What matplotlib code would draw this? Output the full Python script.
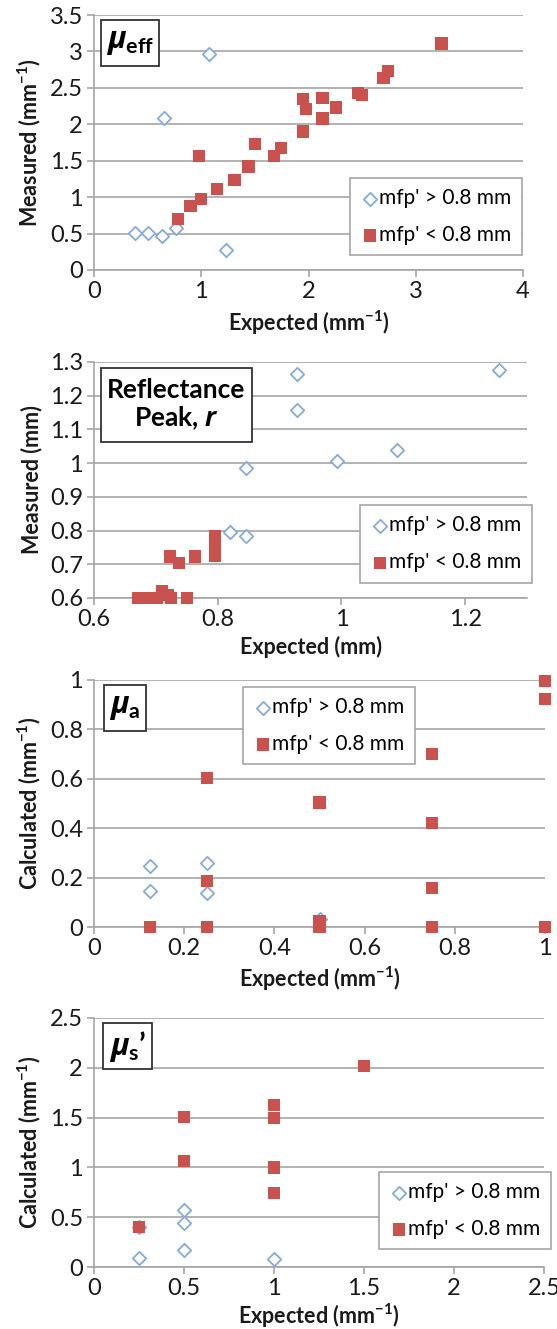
import matplotlib
matplotlib.use("Agg")
import matplotlib.pyplot as plt
from matplotlib.patches import Rectangle
from matplotlib.ticker import FuncFormatter

plt.rcParams['font.family'] = ['Lato', 'DejaVu Sans']
plt.rcParams['mathtext.fontset'] = 'custom'
plt.rcParams['mathtext.it'] = 'Open Sans:italic:bold'
plt.rcParams['mathtext.bf'] = 'Lato:bold'
plt.rcParams['mathtext.rm'] = 'Lato:bold'

# --- data ---
# panel 1: mu_eff
eff_hi_x = [0.38, 0.50, 0.63, 0.76, 0.65, 1.07, 1.23]
eff_hi_y = [0.51, 0.51, 0.47, 0.58, 2.09, 2.97, 0.27]
eff_lo_x = [3.24, 2.74, 2.70, 2.46, 2.50, 2.13, 1.95, 1.98, 2.26, 2.13, 1.95,
            1.50, 1.74, 1.68, 0.98, 1.44, 1.31, 1.15, 1.00, 0.90, 0.78]
eff_lo_y = [3.11, 2.73, 2.63, 2.43, 2.40, 2.36, 2.35, 2.21, 2.23, 2.08, 1.90,
            1.73, 1.67, 1.57, 1.57, 1.42, 1.24, 1.11, 0.97, 0.88, 0.70]

# panel 2: reflectance peak
pk_hi_x = [0.928, 1.254, 0.928, 0.846, 0.993, 1.090, 0.820, 0.846]
pk_hi_y = [1.265, 1.277, 1.157, 0.987, 1.007, 1.038, 0.795, 0.784]
pk_lo_x = [0.672, 0.688, 0.702, 0.710, 0.720, 0.724, 0.750,
           0.723, 0.738, 0.763, 0.796, 0.796, 0.796, 0.796]
pk_lo_y = [0.600, 0.600, 0.600, 0.620, 0.610, 0.600, 0.600,
           0.723, 0.704, 0.723, 0.785, 0.765, 0.745, 0.725]

# panel 3: mu_a
ma_hi_x = [0.125, 0.125, 0.25, 0.25, 0.5]
ma_hi_y = [0.248, 0.146, 0.259, 0.137, 0.034]
ma_lo_x = [1.0, 1.0, 0.75, 0.25, 0.5, 0.75, 0.25, 0.75, 0.125, 0.25, 0.5, 0.5, 0.75, 1.0]
ma_lo_y = [0.996, 0.923, 0.699, 0.604, 0.504, 0.420, 0.187, 0.157, 0.0, 0.0, 0.025, 0.0, 0.0, 0.0]

# panel 4: mu_s'
ms_hi_x = [0.25, 0.25, 0.5, 0.5, 0.5, 1.0]
ms_hi_y = [0.40, 0.094, 0.575, 0.437, 0.168, 0.084]
ms_lo_x = [0.25, 0.5, 0.5, 1.0, 1.0, 1.0, 1.0, 1.5]
ms_lo_y = [0.40, 1.504, 1.063, 1.63, 1.494, 0.999, 0.743, 2.02]

label_hi = "mfp' > 0.8 mm"
label_lo = "mfp' < 0.8 mm"

BLUE = '#86abd9'
RED = '#c9524f'
GRID = '#a6a6a6'
TXT = '#1a1a1a'

inv_mm = r'(mm$^{\mathbf{-1}}$)'

# rect / box are in figure pixels (left, top, right, bottom)
panels = [
    dict(rect=[94, 15, 523, 270], hi=(eff_hi_x, eff_hi_y), lo=(eff_lo_x, eff_lo_y),
         xlim=(0, 4), xticks=[0, 1, 2, 3, 4], ylim=(0, 3.5),
         yticks=[0, 0.5, 1, 1.5, 2, 2.5, 3, 3.5],
         xlabel='Expected ' + inv_mm, ylabel='Measured ' + inv_mm,
         title=r'$\mu_{\mathbf{eff}}$', box=[101, 20, 159, 66], tsize=22,
         leg=(0.597, 0.361), xpad=5),
    dict(rect=[94, 362, 527, 598], hi=(pk_hi_x, pk_hi_y), lo=(pk_lo_x, pk_lo_y),
         xlim=(0.6, 1.3), xticks=[0.6, 0.8, 1.0, 1.2], ylim=(0.6, 1.3),
         yticks=[0.6, 0.7, 0.8, 0.9, 1.0, 1.1, 1.2, 1.3],
         xlabel='Expected (mm)', ylabel='Measured (mm)',
         title='Reflectance\nPeak, $\\mathit{r}$', box=[101, 368, 252, 442], tsize=19,
         leg=(0.614, 0.394), xpad=4),
    dict(rect=[94, 680, 545, 927], hi=(ma_hi_x, ma_hi_y), lo=(ma_lo_x, ma_lo_y),
         xlim=(0, 1), xticks=[0, 0.2, 0.4, 0.6, 0.8, 1.0], ylim=(0, 1),
         yticks=[0, 0.2, 0.4, 0.6, 0.8, 1.0],
         xlabel='Expected ' + inv_mm, ylabel='Calculated ' + inv_mm,
         title=r'$\mu_{\mathbf{a}}$', box=[104, 685, 146, 731], tsize=22,
         leg=(0.330, 0.972), xpad=4),
    dict(rect=[94, 1018, 544, 1267], hi=(ms_hi_x, ms_hi_y), lo=(ms_lo_x, ms_lo_y),
         xlim=(0, 2.5), xticks=[0, 0.5, 1, 1.5, 2, 2.5], ylim=(0, 2.5),
         yticks=[0, 0.5, 1, 1.5, 2, 2.5],
         xlabel='Expected ' + inv_mm, ylabel='Calculated ' + inv_mm,
         title='$\\mu_{\\mathbf{s}}$\u2019', box=[103, 1023, 152, 1069], tsize=22,
         leg=(0.633, 0.382), xpad=2),
]

W, H = 557, 1329
fig = plt.figure(figsize=(W / 100, H / 100), dpi=100)
fmt = FuncFormatter(lambda v, p: ('%g' % round(v, 3)))

for p in panels:
    x0, y0, x1, y1 = p['rect']
    aw, ah = x1 - x0, y1 - y0
    ax = fig.add_axes([x0 / W, 1 - y1 / H, aw / W, ah / H])
    ax.scatter(*p['hi'], marker='D', s=6.8 ** 2, facecolors='white', edgecolors=BLUE,
               linewidths=1.3, clip_on=False, zorder=3, label=label_hi)
    ax.scatter(*p['lo'], marker='s', s=8.8 ** 2, color=RED, edgecolors='none',
               clip_on=False, zorder=4, label=label_lo)
    ax.set_xlim(*p['xlim'])
    ax.set_ylim(*p['ylim'])
    ax.set_xticks(p['xticks'])
    ax.set_yticks(p['yticks'])
    ax.xaxis.set_major_formatter(fmt)
    ax.yaxis.set_major_formatter(fmt)
    ax.grid(axis='y', color=GRID, linewidth=1.2)
    ax.set_axisbelow(True)
    for side in ['top', 'right']:
        ax.spines[side].set_visible(False)
    for side in ['left', 'bottom']:
        ax.spines[side].set_color(GRID)
        ax.spines[side].set_linewidth(1.2)
    ax.tick_params(direction='out', length=5, width=1.2, color=GRID,
                   labelsize=17, labelcolor=TXT, pad=3)
    ax.set_xlabel(p['xlabel'], fontsize=15.5, fontweight='bold', color=TXT,
                  labelpad=p['xpad'])
    ax.set_ylabel(p['ylabel'], fontsize=15.5, fontweight='bold', color=TXT, labelpad=5)

    # label box in the top-left corner
    bl, bt, br, bb = p['box']
    fx0, fy0 = (bl - x0) / aw, (y1 - bb) / ah
    fw, fh = (br - bl) / aw, (bb - bt) / ah
    ax.add_patch(Rectangle((fx0, fy0), fw, fh, transform=ax.transAxes, fc='white',
                           ec='#333333', lw=1.3, zorder=6, clip_on=False))
    ax.text(fx0 + fw / 2, fy0 + fh / 2, p['title'], transform=ax.transAxes,
            ha='center', va='center', fontsize=p['tsize'], fontweight='bold',
            color='black', linespacing=1.1, zorder=7)

    leg = ax.legend(loc='upper left', bbox_to_anchor=p['leg'], fontsize=15,
                    frameon=True, fancybox=False, edgecolor=GRID, framealpha=1,
                    handletextpad=0.0, handlelength=0.9, labelspacing=0.8,
                    borderpad=0.5, borderaxespad=0, scatterpoints=1)
    leg.get_frame().set_linewidth(1.2)
    leg.set_zorder(5)

fig.savefig('out.png', dpi=100)
